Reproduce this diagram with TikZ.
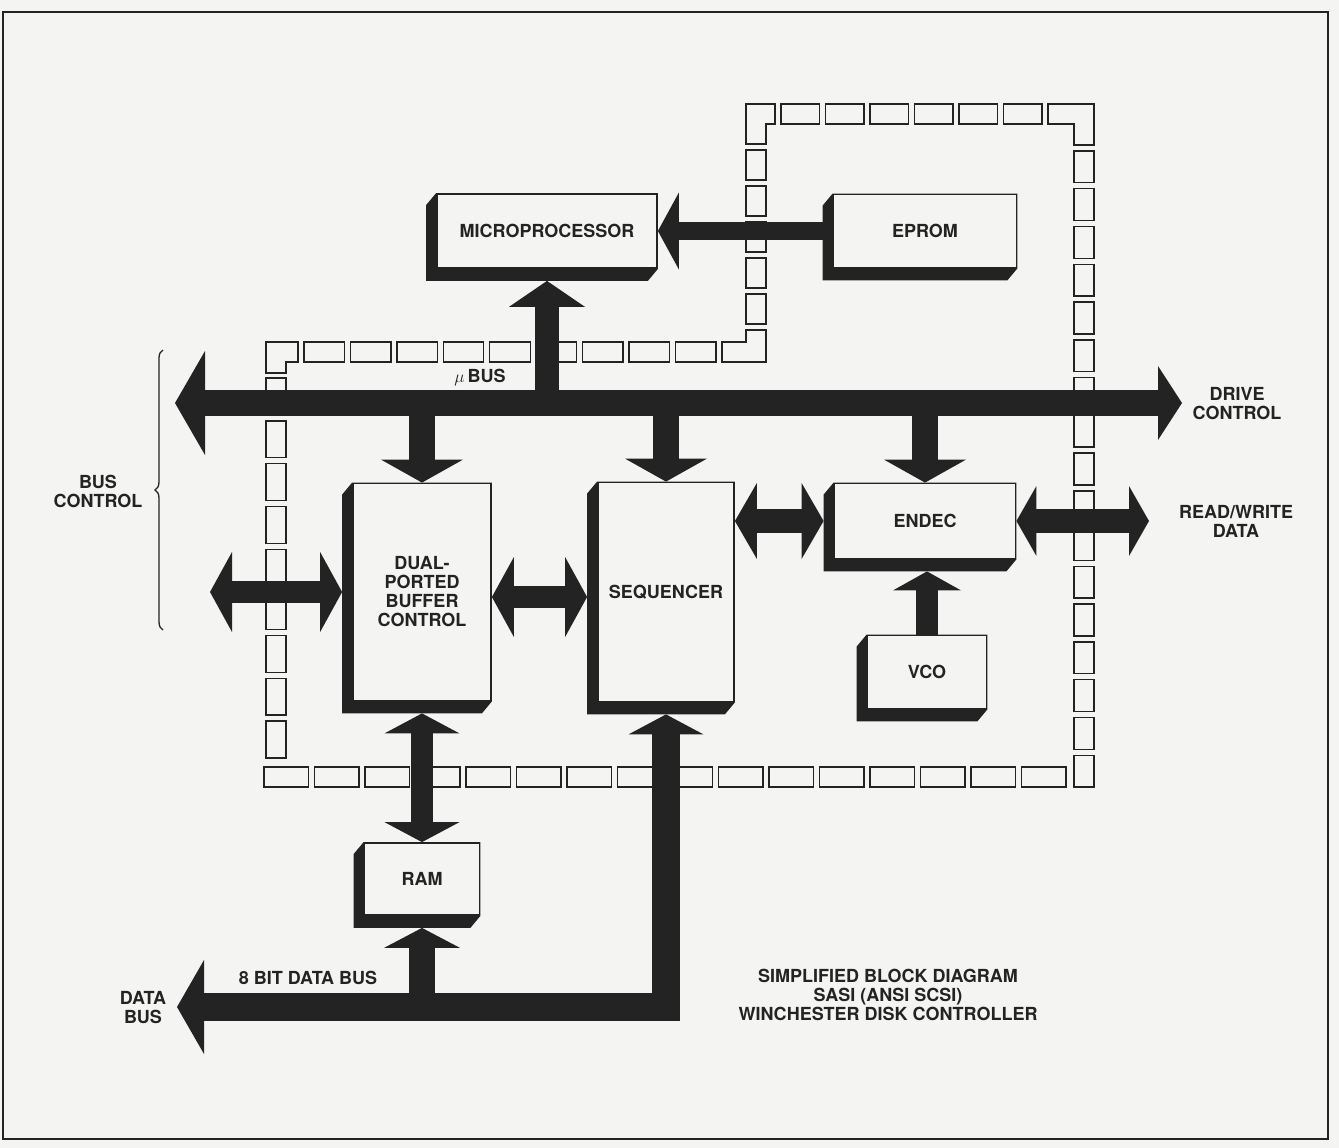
\documentclass[tikz,border=0pt]{standalone}
\usepackage{fontspec}
\setmainfont{TeX Gyre Heros}
\usepackage{tikz}
\usetikzlibrary{arrows.meta,positioning,calc,backgrounds,decorations.pathreplacing}
\definecolor{cInk}{HTML}{232323}
\definecolor{cPaper}{HTML}{F4F4F2}
\newcommand\shx{10}
\newcommand\shy{12}
\newcommand\dw{20}
\newcommand\dgap{6}
\tikzset{
  blk/.style={draw=cInk,fill=cPaper,line width=1.8pt,align=center,inner sep=0pt,font=\fontsize{18}{19}\selectfont\bfseries,text=cInk},
  lbl/.style={align=center,inner sep=0pt,font=\fontsize{18}{19}\selectfont\bfseries,text=cInk},
  fat/.style={draw=cInk,line width=#1,line join=miter},
  fat/.default=24pt,
  hd/.tip={Triangle[length=22pt,width=80pt,line width=0pt]},
  dashbox/.style={draw=cInk,line width=1.4pt},
}
% extruded side of a block, plus its shadow anchors
\newcommand\extrude[1]{%
  \begin{scope}[on background layer]
    \fill[cInk] (#1.north west) -- (#1.north east) -- (#1.south east)
      -- ([shift={(-\shx,\shy)}]#1.south east) -- ([shift={(-\shx,\shy)}]#1.south west)
      -- ([shift={(-\shx,\shy)}]#1.north west) -- cycle;
  \end{scope}
  \coordinate (#1-sb) at ([shift={(0,\shy)}]#1.south);
  \coordinate (#1-sw) at ([shift={(-\shx,0)}]#1.west);}
% chains of open boxes
\newcommand\dashrow[4]{% top y, from x, to x, count
  \pgfmathsetmacro\seglen{(#3-#2-(#4-1)*\dgap)/#4}
  \foreach \i in {1,...,#4}
    \draw[dashbox] ({#2+(\i-1)*(\seglen+\dgap)},#1) rectangle ++(\seglen,\dw);}
\newcommand\dashcol[4]{% left x, from y, to y, count
  \pgfmathsetmacro\seglen{(#3-#2-(#4-1)*\dgap)/#4}
  \foreach \i in {1,...,#4}
    \draw[dashbox] (#1,{#2+(\i-1)*(\seglen+\dgap)}) rectangle ++(\dw,\seglen);}

\begin{document}
\begin{tikzpicture}[x=1pt,y=-1pt]
  \useasboundingbox (0,0) rectangle (1339,1148);
  \begin{scope}[on background layer]
    \fill[cPaper] (0,0) rectangle (1339,1148);
  \end{scope}
  \draw[cInk,line width=1.5pt] (3,12) rectangle (1328,1139);

  % controller outline
  \draw[dashbox] (266,342) -- (298,342) -- (298,362) -- (286,362) -- (286,373) -- (266,373) -- cycle;
  \dashrow{342}{304}{716}{9}
  \draw[dashbox] (722,342) -- (746,342) -- (746,330) -- (766,330) -- (766,362) -- (722,362) -- cycle;
  \dashcol{746}{150}{324}{5}
  \draw[dashbox] (746,104) -- (775,104) -- (775,124) -- (766,124) -- (766,144) -- (746,144) -- cycle;
  \dashrow{104}{781}{1042}{6}
  \draw[dashbox] (1048,104) -- (1094,104) -- (1094,145) -- (1074,145) -- (1074,124) -- (1048,124) -- cycle;
  \dashcol{1074}{151}{787}{17}
  \dashrow{767}{264}{1066}{16}
  \dashcol{266}{378}{758}{9}

  \node[blk,minimum width=220,minimum height=74] (micro) at (547,231) {MICROPROCESSOR};
  \node[blk,minimum width=183,minimum height=73] (eprom) at (925,231) {EPROM};
  \node[blk,minimum width=138,minimum height=217] (dual) at (422,592) {DUAL-\\PORTED\\BUFFER\\CONTROL};
  \node[blk,minimum width=136,minimum height=219] (seq) at (666,592) {SEQUENCER};
  \node[blk,minimum width=181,minimum height=75] (endec) at (925,521) {ENDEC};
  \node[blk,minimum width=119,minimum height=73] (vco) at (927,672) {VCO};
  \node[blk,minimum width=115,minimum height=72] (ram) at (422,879) {RAM};
  \foreach \b in {micro,eprom,dual,seq,endec,vco,ram} {\extrude{\b}}

  \node[lbl] (mubus) at (480,378) {$\mu$\,BUS};
  \node[lbl] (drive) at (1237,404) {DRIVE\\CONTROL};
  \node[lbl] (rwdata) at (1236,521) {READ/WRITE\\DATA};
  \node[lbl] (busctl) at (98,491) {BUS\\CONTROL};
  \node[lbl] (databus) at (143,1008) {DATA\\BUS};
  \node[lbl] (bits) at (308,978) {8 BIT DATA BUS};
  \node[lbl] (title) at (888,995) {SIMPLIFIED BLOCK DIAGRAM\\SASI (ANSI SCSI)\\WINCHESTER DISK CONTROLLER};

  \coordinate (busL) at (175,403);
  \coordinate (busR) at (1182,403);
  \coordinate (ctlL) at (210,592);
  \coordinate (rwR) at (1149,521);
  \coordinate (dbL) at (177,1007);

  % buses
  \draw[fat=26pt,{hd[length=30pt,width=104pt]}-{hd[length=24pt,width=74pt]}] (busL) -- (busR);
  \draw[fat,-{hd[length=26pt,width=76pt]}] (micro.south |- busL) -- (micro-sb);
  \draw[fat=18pt,-{hd[length=21pt,width=77pt]}] (eprom-sw) -- (micro.east |- eprom-sw);
  \foreach \b in {dual,seq,endec}
    \draw[fat=26pt,-{hd[length=23pt,width=82pt]}] (\b.north |- busL) -- (\b.north);
  \draw[fat=22pt,{hd}-{hd}] (ctlL) -- (dual-sw);
  \draw[fat=22pt,{hd}-{hd}] ([yshift=-5pt]dual.east) -- ([yshift=-5pt]seq-sw);
  \draw[fat,{hd[width=76pt]}-{hd[width=76pt]}] (seq.east |- endec) -- (endec-sw);
  \draw[fat,{hd[length=20pt,width=70pt]}-{hd[length=20pt,width=70pt]}] (endec.east) -- (rwR);
  \draw[fat=22pt,-{hd[length=19pt,width=68pt]}] (vco.north) -- (endec-sb -| vco.north);
  \draw[fat=22pt,{hd[length=20pt,width=75pt]}-{hd[length=20pt,width=75pt]}] (dual-sb) -- (ram.north);
  \draw[fat=28pt,{hd[length=27pt,width=94pt]}-{hd[length=20pt,width=75pt]}] (dbL) -| (seq-sb);
  \draw[fat=26pt,-{hd[length=20pt,width=76pt]}] (ram.south |- dbL) -- (ram-sb);

  \draw[cInk,line width=1.3pt,decorate,decoration={brace,amplitude=8pt}] (163,630) -- (163,350);
\end{tikzpicture}
\end{document}
